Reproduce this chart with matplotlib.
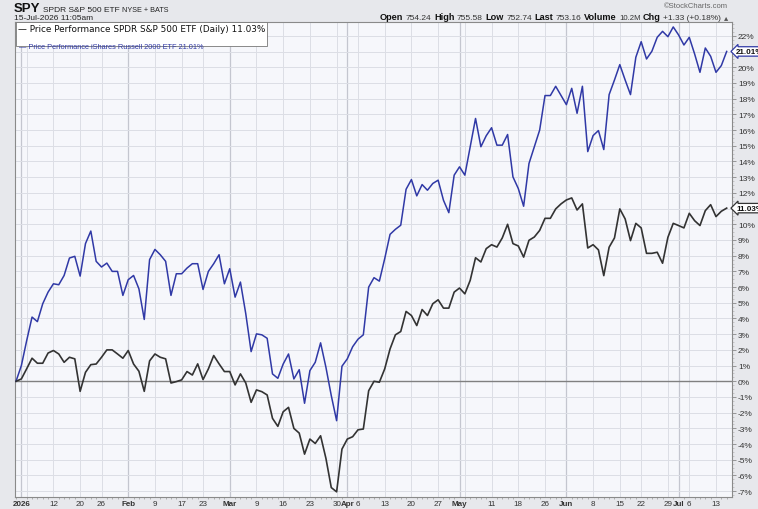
import numpy as np
import pandas as pd
import matplotlib
matplotlib.use("Agg")
import matplotlib.pyplot as plt
from matplotlib.ticker import FixedLocator, MultipleLocator, FuncFormatter
import matplotlib.transforms as mtransforms

plt.rcParams["font.family"] = ["Liberation Sans", "DejaVu Sans"]

# trading days, base day 31-Dec-2025
holidays = ["2026-01-01", "2026-01-19", "2026-02-16", "2026-04-03",
            "2026-05-25", "2026-06-19", "2026-07-03"]
dates = pd.bdate_range("2025-12-31", "2026-07-15")
dates = dates[~dates.isin(pd.to_datetime(holidays))]

# Price performance in %
spy_pct = [
    0, 0.15, 0.8, 1.47, 1.15, 1.15, 1.8, 1.96, 1.74, 1.21,
    1.53, 1.43, -0.64, 0.57, 1.06, 1.1, 1.53, 2.0, 2.0, 1.74,
    1.47, 1.96, 1.1, 0.64, -0.64, 1.3, 1.74, 1.53, 1.43, -0.11,
    -0.02, 0.09, 0.62, 0.40, 1.11, 0.11, 0.79, 1.64, 1.11, 0.62,
    0.62, -0.23, 0.47, -0.11, -1.34, -0.55, -0.66, -0.87, -2.36, -2.87,
    -1.94, -1.66, -3.0, -3.3, -4.64, -3.68, -3.96, -3.47, -4.91, -6.77,
    -7.04, -4.32, -3.68, -3.53, -3.09, -3.04, -0.6, 0.0, -0.06, 0.79,
    2.06, 2.96, 3.17, 4.45, 4.19, 3.55, 4.57, 4.19, 4.94, 5.19,
    4.66, 4.66, 5.68, 5.94, 5.57, 6.43, 7.87, 7.6, 8.45, 8.7,
    8.55, 9.13, 10.0, 8.77, 8.62, 7.91, 8.98, 9.19, 9.61, 10.38,
    10.38, 10.98, 11.3, 11.55, 11.68, 10.91, 11.3, 8.49, 8.7, 8.37,
    6.73, 8.54, 9.13, 10.98, 10.34, 8.96, 10.06, 9.77, 8.15, 8.15,
    8.22, 7.52, 9.17, 10.06, 9.92, 9.77, 10.7, 10.23, 9.92, 10.87,
    11.25, 10.49, 10.83, 11.03,
]
iwm_pct = [
    0, 1.0, 2.6, 4.09, 3.8, 4.94, 5.68, 6.21, 6.15, 6.74,
    7.85, 7.96, 6.70, 8.77, 9.57, 7.64, 7.28, 7.53, 7.0, 7.0,
    5.47, 6.47, 6.74, 5.89, 3.94, 7.75, 8.4, 8.06, 7.64, 5.47,
    6.85, 6.85, 7.21, 7.49, 7.49, 5.85, 7.0, 7.49, 8.06, 6.21,
    7.17, 5.36, 6.32, 4.30, 1.89, 3.02, 2.96, 2.74, 0.47, 0.19,
    1.1, 1.74, 0.15, 0.74, -1.40, 0.68, 1.21, 2.45, 0.89, -0.91,
    -2.51, 0.96, 1.43, 2.2, 2.68, 2.96, 6.0, 6.6, 6.38, 7.81,
    9.36, 9.68, 9.94, 12.23, 12.85, 11.81, 12.53, 12.17, 12.6, 12.81,
    11.53, 10.74, 13.13, 13.66, 13.13, 14.94, 16.74, 14.94, 15.64, 16.15,
    15.04, 15.04, 15.72, 13.02, 12.28, 11.15, 13.87, 14.94, 16.0, 18.2,
    18.2, 18.79, 18.2, 17.62, 18.66, 17.07, 18.79, 14.63, 15.65, 15.97,
    14.76, 18.26, 19.19, 20.17, 19.19, 18.26, 20.64, 21.63, 20.53, 21.02,
    21.91, 22.29, 21.95, 22.57, 22.06, 21.42, 21.91, 20.85, 19.68, 21.23,
    20.7, 19.68, 20.11, 21.01,
]

tick_dates = ["2026-01-02", "2026-01-12", "2026-01-20", "2026-01-26",
              "2026-02-02", "2026-02-09", "2026-02-17", "2026-02-23",
              "2026-03-02", "2026-03-09", "2026-03-16", "2026-03-23", "2026-03-30",
              "2026-04-01", "2026-04-06", "2026-04-13", "2026-04-20", "2026-04-27",
              "2026-05-01", "2026-05-11", "2026-05-18", "2026-05-26",
              "2026-06-01", "2026-06-08", "2026-06-15", "2026-06-22", "2026-06-29",
              "2026-07-01", "2026-07-06", "2026-07-13"]
tick_labels = ["2026", "12", "20", "26", "Feb", "9", "17", "23",
               "Mar", "9", "16", "23", "30", "Apr", "6", "13", "20", "27",
               "May", "11", "18", "26", "Jun", "8", "15", "22", "29",
               "Jul", "6", "13"]

x = np.arange(len(dates))
blue = "#3039a6"
dark = "#333333"

fig = plt.figure(figsize=(7.58, 5.10), dpi=100, facecolor="#e7e8ec")
ax = fig.add_axes([15 / 758, 12 / 510, 716.7 / 758, 475 / 510])
ax.set_facecolor("#f6f7fb")

# grid: one vertical line per week, darker at month starts
week = dates.isocalendar().week.values
month = dates.month.values
for i in range(1, len(dates)):
    if month[i] != month[i - 1]:
        ax.axvline(i, color="#c4c6cf", lw=0.9, zorder=0)
    elif week[i] != week[i - 1]:
        ax.axvline(i, color="#dcdee5", lw=0.7, zorder=0)
for v in range(-7, 23):
    ax.axhline(v, color="#dcdee5", lw=0.7, zorder=0)
ax.axhline(0, color="#808080", lw=1.0, zorder=1)

ax.plot(x, iwm_pct, color=blue, lw=1.1, zorder=3)
ax.plot(x, spy_pct, color=dark, lw=1.2, zorder=3)

ax.set_xlim(-0.19, 133.94)
ax.set_ylim(-7.37, 22.885)

# x axis
pos = [dates.get_loc(pd.Timestamp(d)) for d in tick_dates]
ax.xaxis.set_major_locator(FixedLocator(pos))
ax.set_xticklabels(tick_labels)
for lab in ax.get_xticklabels():
    if not lab.get_text().isdigit() or lab.get_text() == "2026":
        lab.set_fontweight("bold")
ax.xaxis.set_minor_locator(MultipleLocator(1))
ax.tick_params(axis="x", which="major", length=0, pad=2, labelsize=5.8,
               labelcolor="#333333")
ax.tick_params(axis="x", which="minor", length=1.5, width=0.5, color="#999999",
               direction="out")

# y axis on the right; the last-value tags sit over the 11% and 21% labels
tag_levels = [round(iwm_pct[-1]), round(spy_pct[-1])]
ax.yaxis.tick_right()
ax.yaxis.set_major_locator(MultipleLocator(1))
ax.yaxis.set_minor_locator(MultipleLocator(0.25))
ax.yaxis.set_major_formatter(
    FuncFormatter(lambda v, p: "" if round(v) in tag_levels else f"{v:.0f}%"))
ax.tick_params(axis="y", which="major", length=3, width=0.6, color="#888888",
               pad=1.5, labelsize=6, labelcolor="#333333")
ax.tick_params(axis="y", which="minor", length=1.5, width=0.4, color="#aaaaaa")

for s in ax.spines.values():
    s.set_color("#8a8a8a")
    s.set_linewidth(0.8)

# last value tags
tr = mtransforms.blended_transform_factory(ax.transAxes, ax.transData)
for val, col in [(iwm_pct[-1], blue), (spy_pct[-1], dark)]:
    ax.text(1.006, val, f"{val:.2f}%", transform=tr, ha="left", va="center",
            fontsize=5.8, fontweight="bold", color="#111111", clip_on=False, zorder=6,
            bbox=dict(boxstyle="larrow,pad=0.15", fc="white", ec=col, lw=0.9))

# legend box
ax.text(0.004, 0.995, "— Price Performance SPDR S&P 500 ETF (Daily) 11.03%\n ",
        transform=ax.transAxes, ha="left", va="top", fontsize=6.4, color="#111111",
        family=["DejaVu Sans"], zorder=7,
        bbox=dict(boxstyle="square,pad=0.25", fc="white", ec="#777777", lw=0.6))
ax.text(0.006, 0.955, "— Price Performance iShares Russell 2000 ETF 21.01%",
        transform=ax.transAxes, ha="left", va="top", fontsize=5.3, color=blue,
        zorder=8)

# header
def px(xp, yp):
    return xp / 758, 1 - yp / 510

renderer = fig.canvas.get_renderer()

def run_text(x0, y0, pieces):
    xc = x0
    for txt, size, weight, col in pieces:
        t = fig.text(xc / 758, 1 - y0 / 510, txt, fontsize=size, fontweight=weight,
                     color=col, ha="left", va="baseline")
        bb = t.get_window_extent(renderer)
        xc += bb.width + 2.5

run_text(14, 12, [("SPY", 9.5, "bold", "#111111"),
                  ("SPDR S&P 500 ETF", 6, "normal", "#222222"),
                  ("NYSE + BATS", 5.2, "normal", "#222222")])
fig.text(*px(14, 18), "15-Jul-2026 11:05am", fontsize=6, color="#222222",
         ha="left", va="center")
fig.text(*px(728, 6), "©StockCharts.com", fontsize=5.5, color="#666666",
         ha="right", va="center")
run_text(380, 20, [("Open", 6.6, "bold", "#111111"), ("754.24", 6, "normal", "#333333"),
                   ("High", 6.6, "bold", "#111111"), ("755.58", 6, "normal", "#333333"),
                   ("Low", 6.6, "bold", "#111111"), ("752.74", 6, "normal", "#333333"),
                   ("Last", 6.6, "bold", "#111111"), ("753.16", 6, "normal", "#333333"),
                   ("Volume", 6.6, "bold", "#111111"), ("10.2M", 5.6, "normal", "#333333"),
                   ("Chg", 6.6, "bold", "#111111"), ("+1.33 (+0.18%)", 6, "normal", "#333333"),
                   ("▴", 6, "normal", "#555555")])

fig.savefig("out.png", dpi=100, facecolor=fig.get_facecolor())
